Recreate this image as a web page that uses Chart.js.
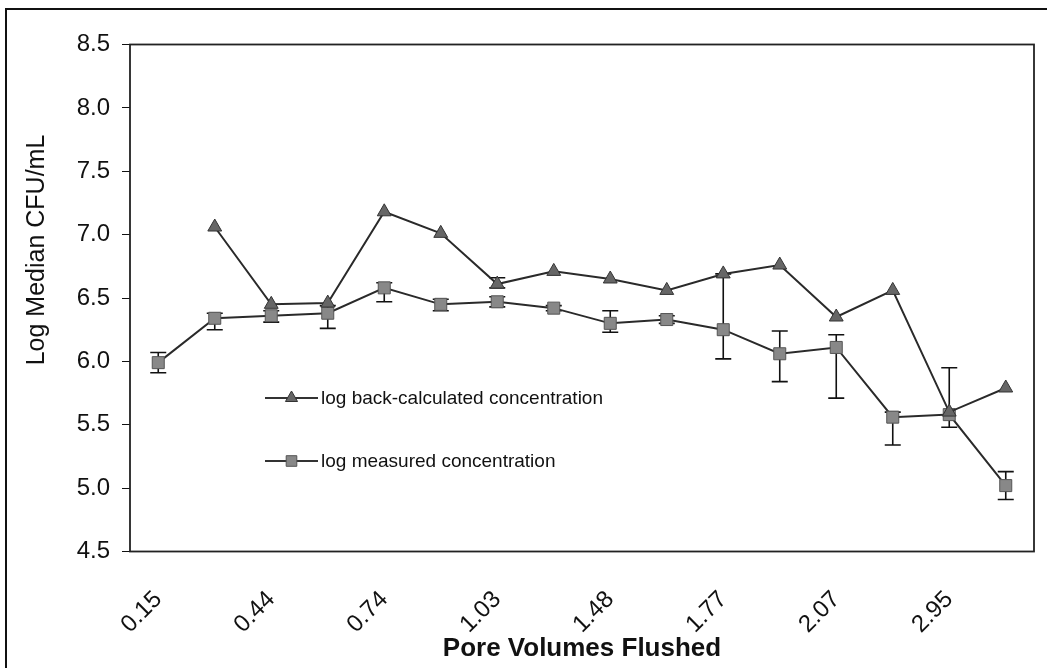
<!DOCTYPE html>
<html>
<head>
<meta charset="utf-8">
<script src="https://cdn.jsdelivr.net/npm/chart.js@4.4.1/dist/chart.umd.min.js"></script>
<style>
  html, body { margin: 0; padding: 0; background: #fff; }
  #wrap { position: relative; width: 1047px; height: 668px; }
  #frame { position: absolute; left: 5px; top: 8px; right: -10px; bottom: -10px;
           border-left: 2px solid #111; border-top: 2px solid #111; }
  canvas { position: absolute; left: 0; top: 0; }
</style>
</head>
<body>
<div id="wrap">
  <div id="frame"></div>
  <canvas id="myChart" width="1047" height="668"></canvas>
</div>
<script>
// categories on the x axis (only every other one is labelled in the original)
const poreVolumes = ['0.15', '', '0.44', '', '0.74', '', '1.03', '', '1.48', '', '1.77', '', '2.07', '', '2.95', ''];

// log back-calculated concentration (triangles)
const backCalc = [null, 7.06, 6.45, 6.46, 7.18, 7.01, 6.61, 6.71, 6.65, 6.56, 6.69, 6.76, 6.35, 6.56, 5.60, 5.79];
const backHigh = [null, null, null, null, null, null, 6.66, null, null, null, null, null, null, null, null, null];
const backLow  = [null, null, null, null, null, null, 6.58, null, null, null, null, null, null, null, null, null];

// log measured concentration (squares) with error bars
const measured = [5.99, 6.34, 6.36, 6.38, 6.58, 6.45, 6.47, 6.42, 6.30, 6.33, 6.25, 6.06, 6.11, 5.56, 5.58, 5.02];
const measHigh = [6.07, 6.38, 6.40, 6.44, 6.62, 6.49, 6.51, 6.44, 6.40, 6.36, 6.69, 6.24, 6.21, 5.60, 5.95, 5.13];
const measLow  = [5.91, 6.25, 6.31, 6.26, 6.47, 6.40, 6.43, 6.40, 6.23, 6.30, 6.02, 5.84, 5.71, 5.34, 5.48, 4.91];

// y axis ticks
const yMin = 4.5, yMax = 8.5, yStep = 0.5;

const FONT = "'Liberation Sans', Arial, sans-serif";

// error bars, drawn under the markers
const errorBars = {
    id: 'errorBars',
    beforeDatasetsDraw(chart) {
        const ctx = chart.ctx, xs = chart.scales.x, ys = chart.scales.y;
        const sets = [[backHigh, backLow], [measHigh, measLow]];
        ctx.save();
        ctx.strokeStyle = '#111';
        ctx.lineWidth = 1.6;
        sets.forEach(([hi, lo]) => {
            hi.forEach((h, i) => {
                if (h == null || lo[i] == null) return;
                const x = xs.getPixelForValue(i);
                const y1 = ys.getPixelForValue(h), y2 = ys.getPixelForValue(lo[i]);
                ctx.beginPath();
                ctx.moveTo(x, y1); ctx.lineTo(x, y2);
                ctx.moveTo(x - 8, y1); ctx.lineTo(x + 8, y1);
                ctx.moveTo(x - 8, y2); ctx.lineTo(x + 8, y2);
                ctx.stroke();
            });
        });
        ctx.restore();
    }
};

// plot frame, in-plot legend and the y title
const decorations = {
    id: 'decorations',
    beforeDatasetsDraw(chart) {
        const ctx = chart.ctx, a = chart.chartArea;
        ctx.save();
        ctx.strokeStyle = '#222';
        ctx.lineWidth = 1.8;
        ctx.strokeRect(a.left, a.top, a.right - a.left, a.bottom - a.top);
        ctx.restore();
    },
    afterDraw(chart) {
        const ctx = chart.ctx;
        ctx.save();
        // y title
        ctx.translate(37, 250);
        ctx.rotate(-Math.PI / 2);
        ctx.font = '25px ' + FONT;
        ctx.fillStyle = '#111';
        ctx.textAlign = 'center';
        ctx.textBaseline = 'middle';
        ctx.fillText('Log Median CFU/mL', 0, 0);
        ctx.restore();

        // legend
        const rows = [
            { y: 398, ds: chart.data.datasets[0] },
            { y: 461, ds: chart.data.datasets[1] }
        ];
        ctx.save();
        rows.forEach(r => {
            ctx.strokeStyle = '#333';
            ctx.lineWidth = 1.8;
            ctx.beginPath();
            ctx.moveTo(265, r.y); ctx.lineTo(318, r.y);
            ctx.stroke();
            ctx.fillStyle = r.ds.pointBackgroundColor;
            ctx.strokeStyle = r.ds.pointBorderColor;
            ctx.lineWidth = 1;
            Chart.helpers.drawPoint(ctx, { pointStyle: r.ds.pointStyle, radius: r.ds.pointRadius - 1, borderWidth: 1 }, 291.5, r.y);
            ctx.fillStyle = '#111';
            ctx.font = '19px ' + FONT;
            ctx.textAlign = 'left';
            ctx.textBaseline = 'middle';
            ctx.fillText(r.ds.label, 321, r.y + 1);
        });
        ctx.restore();
    }
};

let data = {
    labels: poreVolumes,
    datasets: [
        {
            label: 'log back-calculated concentration',
            data: backCalc,
            borderColor: '#2a2a2a',
            borderWidth: 2,
            pointStyle: 'triangle',
            pointRadius: 8,
            pointBackgroundColor: '#666666',
            pointBorderColor: '#333333',
            pointBorderWidth: 1,
            fill: false,
            tension: 0
        },
        {
            label: 'log measured concentration',
            data: measured,
            borderColor: '#2a2a2a',
            borderWidth: 2,
            pointStyle: 'rect',
            pointRadius: 8.5,
            pointBackgroundColor: '#888888',
            pointBorderColor: '#555555',
            pointBorderWidth: 1,
            fill: false,
            tension: 0
        }
    ]
};

let options = {
    responsive: false,
    animation: false,
    layout: { padding: { left: 0, right: 13, top: 44.5, bottom: 0 } },
    plugins: { legend: { display: false }, tooltip: { enabled: false } },
    scales: {
        x: {
            offset: true,
            grid: { display: false, drawTicks: false },
            border: { display: false },
            ticks: {
                autoSkip: false, maxRotation: 45, minRotation: 45, padding: 34,
                color: '#111', font: { family: FONT, size: 24 }
            },
            title: {
                display: true, text: 'Pore Volumes Flushed', color: '#111',
                font: { family: FONT, size: 26, weight: 'bold' },
                padding: { top: 0, bottom: 4 }
            },
            afterFit(scale) {
                scale.height = 116.5;
                scale.paddingLeft = 0;
                scale.paddingRight = 0;
            }
        },
        y: {
            min: yMin, max: yMax,
            grid: { display: true, drawOnChartArea: false, drawTicks: true, tickLength: 8, color: '#111' },
            border: { display: false },
            ticks: {
                stepSize: yStep, padding: 12, color: '#111',
                font: { family: FONT, size: 24 },
                callback: v => v.toFixed(1)
            },
            afterFit(scale) {
                scale.width = 130;
                scale.paddingTop = 0;
                scale.paddingBottom = 0;
            }
        }
    }
};

let ctx = document.getElementById('myChart').getContext('2d');
let myLineChart = new Chart(ctx, {
    type: 'line',
    data: data,
    options: options,
    plugins: [decorations, errorBars]
});
</script>
</body>
</html>
